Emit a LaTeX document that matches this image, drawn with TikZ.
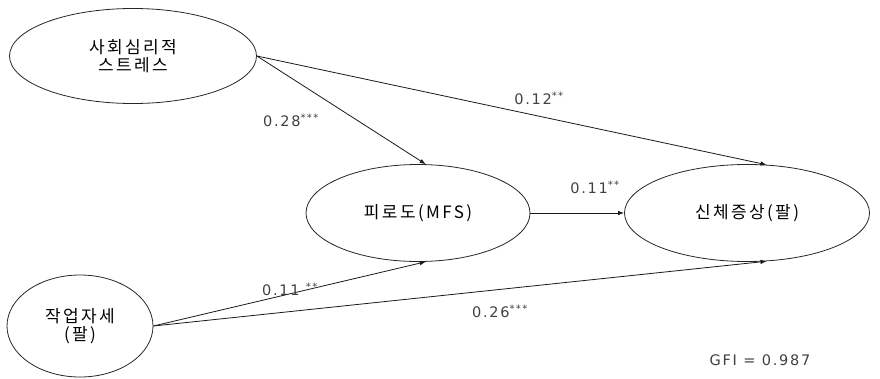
\documentclass[tikz,border=0pt]{standalone}
\usepackage{fontspec}
\setmainfont{Noto Sans CJK KR}
\newfontfamily\korfont[LetterSpace=14]{Noto Sans CJK KR}
\newfontfamily\numfont[LetterSpace=12]{DejaVu Sans}
\usetikzlibrary{arrows.meta,positioning,shapes.geometric}

\begin{document}
\begin{tikzpicture}[x=1pt, y=-1pt, >={Latex[length=6pt,width=4.5pt]}]
  \tikzstyle{latent}=[ellipse, draw=black!85, line width=0.8pt, inner sep=0pt, align=center, font=\korfont\fontsize{17}{18.5}\selectfont]
  \tikzstyle{path}=[->, draw=black!90, line width=0.8pt]
  \tikzstyle{coef}=[font=\numfont\fontsize{14.5}{16}\selectfont, text=black!75]
  \useasboundingbox (0,0) rectangle (880,378);
  % latent variables
  \node[latent, minimum width=247pt, minimum height=95pt] (stress) at (133,56) {사회심리적\\스트레스};
  \node[latent, minimum width=224pt, minimum height=97pt] (mfs) at (418,213) {피로도(MFS)};
  \node[latent, minimum width=245pt, minimum height=97pt] (symp) at (747,213) {신체증상(팔)};
  \node[latent, minimum width=146pt, minimum height=102pt] (posture) at (80,326) {작업자세\\(팔)};
  % paths
  \draw[path] (stress.east) -- (mfs.81);
  \draw[path] (stress.east) -- (symp.68);
  \draw[path] (mfs.east) -- (symp.west);
  \draw[path] (posture.east) -- (mfs.-81);
  \draw[path] (posture.east) -- (symp.-68);
  % coefficients
  \node[coef] (c1) at (291,120) {0.28\textsuperscript{***}};
  \node[coef] (c2) at (539,98) {0.12\textsuperscript{**}};
  \node[coef] (c3) at (595,187) {0.11\textsuperscript{**}};
  \node[coef] (c4) at (290,289) {0.11 \textsuperscript{**}};
  \node[coef] (c5) at (500,311) {0.26\textsuperscript{***}};
  \node[coef] (gfi) at (760,360) {GFI = 0.987};
\end{tikzpicture}
\end{document}
